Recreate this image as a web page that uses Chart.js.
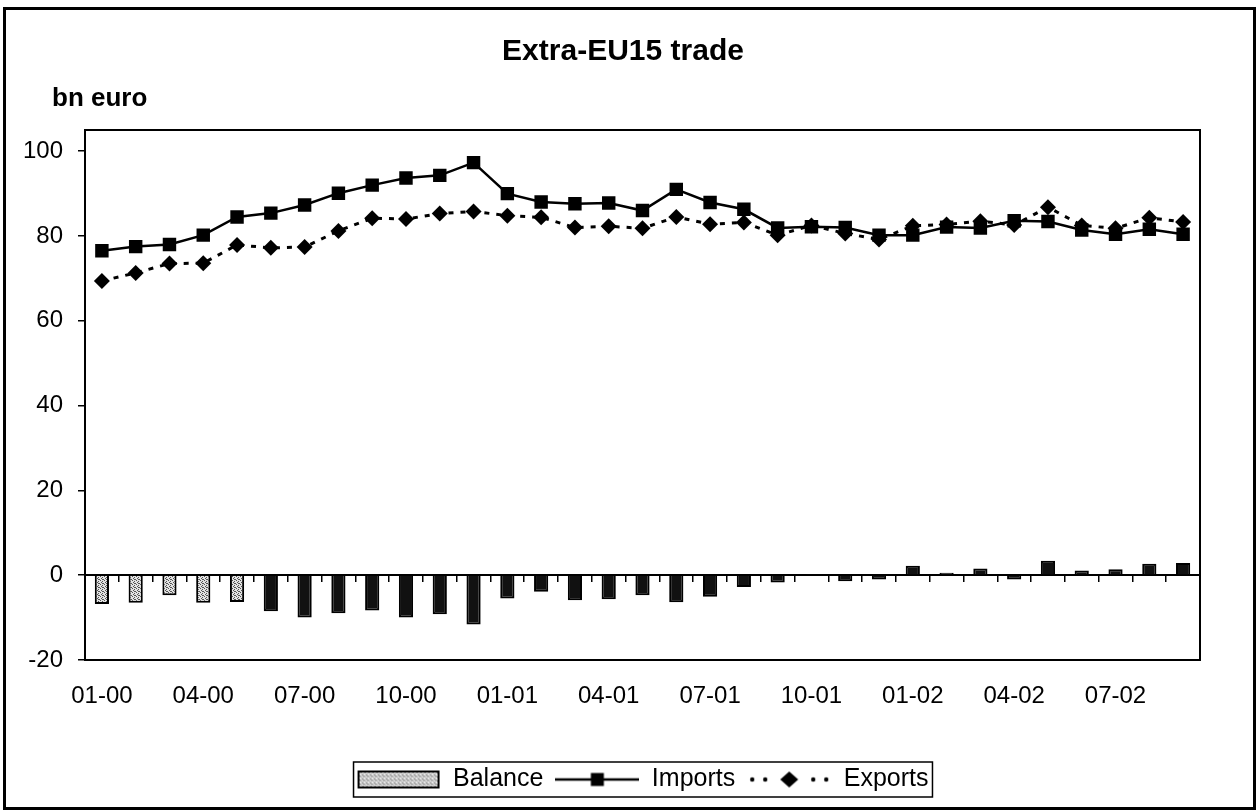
<!DOCTYPE html>
<html>
<head>
<meta charset="utf-8">
<script src="https://cdn.jsdelivr.net/npm/chart.js@4.4.0/dist/chart.umd.min.js"></script>
<style>
  html, body { margin: 0; padding: 0; background: #fff; }
  #wrap { position: relative; width: 1258px; height: 812px; }
  #frame {
    position: absolute; left: 3px; top: 7px; width: 1253px; height: 803px;
    box-sizing: border-box; border: 3px solid #000; pointer-events: none;
  }
</style>
</head>
<body>
<div id="wrap">
  <canvas id="chart" width="1258" height="812"></canvas>
  <div id="frame"></div>
</div>
<script>
// monthly data, 01-00 .. 09-02 (bn euro)
const months = [
  '01-00', '02-00', '03-00', '04-00', '05-00', '06-00', '07-00', '08-00', '09-00', '10-00', '11-00', '12-00',
  '01-01', '02-01', '03-01', '04-01', '05-01', '06-01', '07-01', '08-01', '09-01', '10-01', '11-01', '12-01',
  '01-02', '02-02', '03-02', '04-02', '05-02', '06-02', '07-02', '08-02', '09-02'
];
const balance = [
  -6.8, -6.5, -4.7, -6.5, -6.3, -8.5, -10.0, -9.0, -8.3, -10.0, -9.2, -11.6,
  -5.5, -3.9, -5.9, -5.7, -4.7, -6.4, -5.1, -2.8, -1.7, 0.3, -1.4, -1.0,
  2.2, 0.6, 1.6, -1.0, 3.4, 1.1, 1.4, 2.7, 2.9
];
const imports = [
  76.5, 77.5, 78.0, 80.2, 84.5, 85.4, 87.3, 90.1, 92.0, 93.7, 94.3, 97.3,
  90.0, 88.0, 87.6, 87.8, 86.0, 91.0, 87.9, 86.3, 81.9, 82.2, 82.0, 80.2,
  80.2, 82.1, 81.9, 83.6, 83.4, 81.4, 80.4, 81.6, 80.4
];
const exports = [
  69.4, 71.3, 73.5, 73.6, 77.9, 77.2, 77.4, 81.2, 84.2, 84.0, 85.3, 85.8,
  84.8, 84.4, 82.0, 82.3, 81.8, 84.5, 82.8, 83.2, 80.2, 82.5, 80.6, 79.2,
  82.4, 82.7, 83.5, 82.6, 86.8, 82.5, 81.8, 84.3, 83.3
];
const yTicks = [-20, 0, 20, 40, 60, 80, 100];
const seriesNames = ['Balance', 'Imports', 'Exports'];

const FONT = '"Liberation Sans", Arial, Helvetica, sans-serif';
const canvas = document.getElementById('chart');
const ctx = canvas.getContext('2d');

// speckled fill like the printed hatch
function makePattern(bg, dot) {
  const tile = document.createElement('canvas');
  tile.width = 4; tile.height = 4;
  const g = tile.getContext('2d');
  g.fillStyle = bg; g.fillRect(0, 0, 4, 4);
  g.fillStyle = dot;
  [[0, 0], [2, 1], [1, 2], [3, 3], [2, 3]].forEach(([x, y]) => g.fillRect(x, y, 1, 1));
  return ctx.createPattern(tile, 'repeat');
}
const lightFill = makePattern('#e2e2e2', '#555');

// legend symbols
const ICON_W = 84;
function legendIcon(kind) {
  const c = document.createElement('canvas');
  c.width = ICON_W; c.height = 22;
  const g = c.getContext('2d');
  const cy = 11, mid = ICON_W / 2;
  if (kind === 'bar') {
    g.fillStyle = makePattern('#e8e8e8', '#777');
    g.fillRect(2, 3, ICON_W - 4, 16);
    g.lineWidth = 2; g.strokeStyle = '#000';
    g.strokeRect(2, 3, ICON_W - 4, 16);
  } else if (kind === 'square') {
    g.strokeStyle = '#000'; g.lineWidth = 2.5;
    g.beginPath(); g.moveTo(0, cy); g.lineTo(ICON_W, cy); g.stroke();
    g.fillStyle = '#000'; g.fillRect(mid - 6.5, cy - 6.5, 13, 13);
  } else {
    g.fillStyle = '#000';
    [5, 18, ICON_W - 18, ICON_W - 5].forEach(x => { g.beginPath(); g.arc(x, cy, 2.2, 0, Math.PI * 2); g.fill(); });
    g.beginPath();
    g.moveTo(mid - 9, cy); g.lineTo(mid, cy - 8); g.lineTo(mid + 9, cy); g.lineTo(mid, cy + 8);
    g.closePath(); g.fill();
  }
  return c;
}
const legendIcons = [legendIcon('bar'), legendIcon('square'), legendIcon('diamond')];

// plot frame, header texts and legend box
const decor = {
  id: 'decor',
  beforeDatasetsDraw(chart) {
    const a = chart.chartArea, c = chart.ctx;
    c.save();
    c.strokeStyle = '#000'; c.lineWidth = 2;
    c.strokeRect(a.left, a.top, a.right - a.left, a.bottom - a.top);
    c.restore();
  },
  afterDraw(chart) {
    const c = chart.ctx;
    c.save();
    c.fillStyle = '#000';
    c.font = 'bold 30px ' + FONT;
    c.textAlign = 'center'; c.textBaseline = 'alphabetic';
    c.fillText('Extra-EU15 trade', 623, 60);
    c.font = 'bold 26px ' + FONT;
    c.textAlign = 'left';
    c.fillText('bn euro', 52, 106);

    const boxes = chart.legend.legendHitBoxes;
    if (boxes && boxes.length) {
      const first = boxes[0], last = boxes[boxes.length - 1];
      const l = first.left - 3, r = last.left + last.width + 4;
      const t = first.top - 5, b = first.top + first.height + 5;
      c.strokeStyle = '#000'; c.lineWidth = 1.5;
      c.strokeRect(l, t, r - l, b - t);
    }
    c.restore();
  }
};

new Chart(ctx, {
  type: 'bar',
  data: {
    labels: months,
    datasets: [
      {
        type: 'bar',
        label: seriesNames[0],
        data: balance,
        xAxisID: 'x', yAxisID: 'y',
        backgroundColor: balance.map((v, i) => i < 5 ? lightFill : '#111'),
        borderColor: '#000',
        borderWidth: 2,
        barPercentage: 0.42,
        categoryPercentage: 1,
        order: 2
      },
      {
        type: 'line',
        label: seriesNames[1],
        data: imports,
        xAxisID: 'x', yAxisID: 'y',
        borderColor: '#000',
        borderWidth: 2.5,
        pointStyle: 'rect',
        pointRadius: 9.5,
        pointBackgroundColor: '#000',
        pointBorderWidth: 0,
        tension: 0,
        order: 1
      },
      {
        type: 'line',
        label: seriesNames[2],
        data: exports,
        xAxisID: 'x', yAxisID: 'y',
        borderColor: '#000',
        borderWidth: 3,
        borderDash: [5, 7],
        pointStyle: 'rectRot',
        pointRadius: 8,
        pointBackgroundColor: '#000',
        pointBorderWidth: 0,
        tension: 0,
        order: 0
      }
    ]
  },
  options: {
    responsive: false,
    animation: false,
    layout: { padding: { left: 0, top: 130, right: 58, bottom: 10 } },
    scales: {
      x: {
        type: 'category',
        position: 'bottom',
        offset: true,
        grid: { display: false, drawTicks: false },
        border: { display: true, color: '#000', width: 2 },
        ticks: {
          autoSkip: false,
          maxRotation: 0,
          padding: 22,
          color: '#000',
          font: { size: 24, family: FONT },
          callback: (val, i) => i % 3 === 0 ? months[i] : ''
        },
        afterFit: s => { s.height = 95; }
      },
      x0: {
        type: 'category',
        position: { y: 0 },
        offset: true,
        grid: {
          display: true, drawOnChartArea: false, drawTicks: true,
          tickLength: 6, offset: true, color: '#000', lineWidth: 1.5
        },
        border: { display: true, color: '#000', width: 2 },
        ticks: { display: false },
        afterFit: s => { s.height = 0; }
      },
      y: {
        position: 'left',
        min: -20,
        max: 105,
        grid: {
          display: true, drawOnChartArea: false, drawTicks: true,
          tickLength: 7, color: '#000', lineWidth: 1.5
        },
        border: { display: true, color: '#000', width: 2 },
        ticks: {
          padding: 15,
          color: '#000',
          font: { size: 24, family: FONT }
        },
        afterBuildTicks: s => { s.ticks = yTicks.map(v => ({ value: v })); },
        afterFit: s => { s.width = 85; }
      }
    },
    plugins: {
      title: { display: false },
      tooltip: { enabled: false },
      legend: {
        position: 'bottom',
        fullSize: false,
        labels: {
          usePointStyle: true,
          pointStyleWidth: ICON_W,
          padding: 12,
          color: '#000',
          font: { size: 25, family: FONT },
          generateLabels: chart => chart.data.datasets.map((ds, i) => ({
            text: ds.label,
            pointStyle: legendIcons[i],
            datasetIndex: i,
            hidden: false,
            fillStyle: 'transparent',
            strokeStyle: 'transparent',
            lineWidth: 0
          }))
        }
      }
    }
  },
  plugins: [decor]
});
</script>
</body>
</html>
